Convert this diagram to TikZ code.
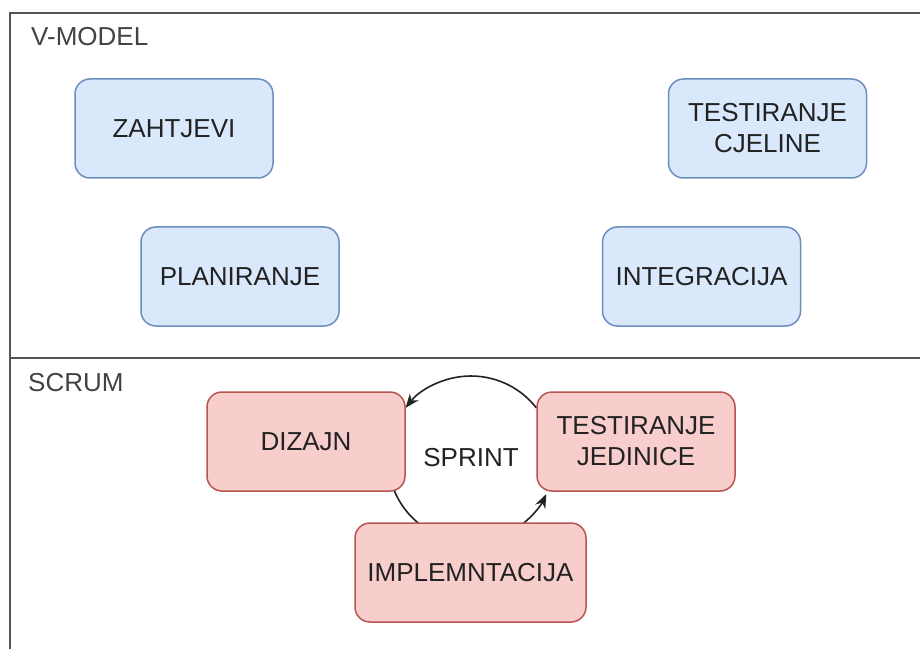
\documentclass[tikz,border=0pt]{standalone}
\usepackage{fontspec}
\setmainfont{Liberation Sans}
\usetikzlibrary{arrows.meta}
\definecolor{bfill}{HTML}{DAE8FC}
\definecolor{bline}{HTML}{6C8EBF}
\definecolor{rfill}{HTML}{F8CECC}
\definecolor{rline}{HTML}{B85450}
\definecolor{frameln}{HTML}{555555}
\definecolor{txt}{HTML}{222222}
\tikzset{
  box/.style={rounded corners=15pt, minimum width=198pt, minimum height=99pt,
    line width=1.5pt, align=center, inner sep=0pt, text=txt,
    font=\fontsize{26pt}{31pt}\selectfont},
  vbox/.style={box, draw=bline, fill=bfill},
  sbox/.style={box, draw=rline, fill=rfill},
  lbl/.style={anchor=west, inner sep=0pt, text=txt!85,
    font=\fontsize{26pt}{31pt}\selectfont},
  frm/.style={draw=frameln, line width=2pt},
  cyc/.style={draw=txt, line width=1.6pt},
  cyca/.style={cyc, -{Stealth[length=14pt,width=11pt]}}
}
\begin{document}
\begin{tikzpicture}[x=1pt,y=1pt]
\useasboundingbox (0,0) rectangle (920,649);
% frame
\draw[frm] (10,0) -- (10,636) -- (920,636);
\draw[frm] (10,291) -- (920,291);
% section labels
\node[lbl] (vm) at (31,612) {V-MODEL};
\node[lbl] (sc) at (28,266) {SCRUM};
% V-model boxes
\node[vbox] (zah) at (174,520.5) {ZAHTJEVI};
\node[vbox] (tcj) at (767.5,520.5) {TESTIRANJE\\CJELINE};
\node[vbox] (pla) at (240,372.5) {PLANIRANJE};
\node[vbox] (int) at (701.5,372.5) {INTEGRACIJA};
% scrum
\coordinate (c) at (471,190);
\node[inner sep=0pt, text=txt, font=\fontsize{26pt}{31pt}\selectfont] (spr) at (471,191) {SPRINT};
\draw[cyca] ([shift={(38:83pt)}]c) arc[start angle=38, end angle=142, radius=83pt];
\draw[cyc] ([shift={(201.7:83pt)}]c) arc[start angle=201.7, end angle=231.5, radius=83pt];
\draw[cyca] ([shift={(-51.5:83pt)}]c) arc[start angle=-51.5, end angle=-25, radius=83pt];
\node[sbox] (diz) at (306,207.5) {DIZAJN};
\node[sbox] (tje) at (636,207.5) {TESTIRANJE\\JEDINICE};
\node[sbox, minimum width=231pt] (imp) at (470.5,76.5) {IMPLEMNTACIJA};
\end{tikzpicture}
\end{document}
